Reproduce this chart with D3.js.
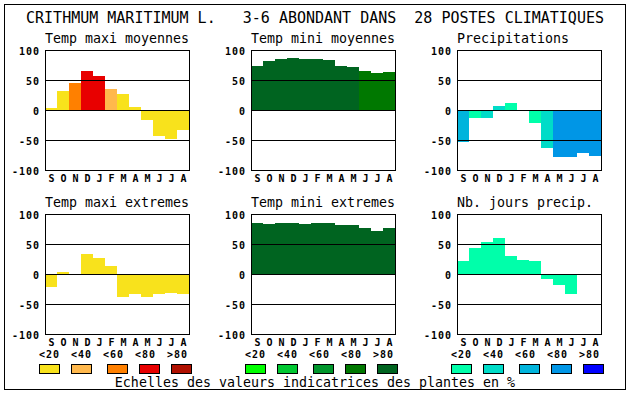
<!DOCTYPE html>
<html>
<head>
<meta charset="utf-8">
<script src="https://cdn.jsdelivr.net/npm/d3@7"></script>
<style>
  body { margin: 0; background: #fff; }
  svg { display: block; }
  text { font-family: "DejaVu Sans Mono", monospace; fill: #000; }
  .big { font-size: 15px; }
  .sub { font-size: 13.3px; }
  .tick { font-size: 10px; font-weight: bold; letter-spacing: 1px; }
</style>
</head>
<body>
<div id="d3-container"></div>
<script>
/**
 * CONSTANTS AND GLOBALS
 * */
const width = 630,
  height = 394;

/**
 * DATA
 * */
const months = ["S", "O", "N", "D", "J", "F", "M", "A", "M", "J", "J", "A"];
const yTicks = [100, 50, 0, -50, -100];
const legendLabels = ["<20", "<40", "<60", "<80", ">80"];

const tempMaxColors = ["#f8e21c", "#ffb84c", "#ff8000", "#e80000", "#b01000"];
const tempMinColors = ["#00ff00", "#00c832", "#00962c", "#007800", "#006420"];
const precipColors = ["#00ffaa", "#00dcc8", "#00b4dc", "#0096e6", "#0000ff"];

const titles = ["Temp maxi moyennes", "Temp mini moyennes", "Precipitations",
  "Temp maxi extremes", "Temp mini extremes", "Nb. jours precip."];

// bar values (-100..100) per month
const tMaxMoy = [4, 32, 45, 65, 57, 35, 27, 5, -16, -43, -48, -33];
const tMinMoy = [73, 82, 85, 87, 85, 85, 83, 73, 72, 65, 62, 63];
const precip = [-53, -14, -13, 7, 12, -2, -21, -64, -78, -78, -71, -76];
const tMaxExt = [-21, 3, 0, 34, 27, 14, -38, -34, -38, -33, -31, -33];
const tMinExt = [85, 84, 85, 85, 84, 85, 85, 82, 82, 76, 72, 76];
const nbJours = [21, 44, 54, 60, 30, 24, 21, -8, -18, -34, -2, 0];

// colour class (index into the palette) per month
const tMaxMoyCls = [0, 0, 2, 3, 3, 1, 0, 0, 0, 0, 0, 0];
const tMinMoyCls = [4, 4, 4, 4, 4, 4, 4, 4, 4, 3, 3, 3];
const precipCls = [2, 0, 1, 1, 0, 1, 0, 1, 3, 3, 3, 3];
const tMaxExtCls = [0, 0, 0, 0, 0, 0, 0, 0, 0, 0, 0, 0];
const tMinExtCls = [4, 4, 4, 4, 4, 4, 4, 4, 4, 4, 4, 4];
const nbJoursCls = [0, 0, 0, 0, 0, 0, 0, 0, 0, 0, 0, 0];

const panels = [
  { title: titles[0], values: tMaxMoy, cls: tMaxMoyCls, palette: tempMaxColors, col: 0, row: 0 },
  { title: titles[1], values: tMinMoy, cls: tMinMoyCls, palette: tempMinColors, col: 1, row: 0 },
  { title: titles[2], values: precip, cls: precipCls, palette: precipColors, col: 2, row: 0 },
  { title: titles[3], values: tMaxExt, cls: tMaxExtCls, palette: tempMaxColors, col: 0, row: 1 },
  { title: titles[4], values: tMinExt, cls: tMinExtCls, palette: tempMinColors, col: 1, row: 1 },
  { title: titles[5], values: nbJours, cls: nbJoursCls, palette: precipColors, col: 2, row: 1 },
];

/**
 * LAYOUT
 * */
const plotW = 144, plotH = 120;
const plotLeft = [45, 251, 457];
const plotTop = [50, 214];
// legend box offsets from the group's start (one is shifted in the original)
const boxOffsets = [0, 32, 68, 100, 132];

const svg = d3.select("#d3-container")
  .append("svg")
  .attr("width", width)
  .attr("height", height)
  .attr("viewBox", "0 0 " + width + " " + height);

// outer frame
svg.append("rect")
  .attr("x", 4.5).attr("y", 4.5)
  .attr("width", 621).attr("height", 385)
  .attr("fill", "none").attr("stroke", "#000");

svg.append("text")
  .attr("class", "big")
  .attr("x", 315).attr("y", 23)
  .attr("text-anchor", "middle")
  .attr("xml:space", "preserve")
  .style("white-space", "pre")
  .text("CRITHMUM MARITIMUM L.   3-6 ABONDANT DANS  28 POSTES CLIMATIQUES");

/**
 * PANELS
 * */
panels.forEach(p => {
  const x0 = plotLeft[p.col], y0 = plotTop[p.row];
  const x = d3.scaleBand().domain(d3.range(12)).range([x0, x0 + plotW]);
  const y = d3.scaleLinear().domain([-100, 100]).range([y0 + plotH, y0]);
  const g = svg.append("g");

  g.append("text")
    .attr("class", "sub")
    .attr("x", x0).attr("y", y0 - 7)
    .text(p.title);

  g.selectAll("rect.bar")
    .data(p.values)
    .join("rect")
    .attr("class", "bar")
    .attr("x", (d, i) => x(i))
    .attr("width", x.bandwidth())
    .attr("y", d => y(Math.max(0, d)))
    .attr("height", d => Math.abs(y(d) - y(0)))
    .attr("fill", (d, i) => p.palette[p.cls[i]])
    .attr("shape-rendering", "crispEdges");

  // grid lines at 50, 0, -50
  g.selectAll("line.grid")
    .data([50, 0, -50])
    .join("line")
    .attr("class", "grid")
    .attr("x1", x0).attr("x2", x0 + plotW)
    .attr("y1", d => Math.round(y(d)) + 0.5)
    .attr("y2", d => Math.round(y(d)) + 0.5)
    .attr("stroke", "#000");

  g.append("rect")
    .attr("x", x0 + 0.5).attr("y", y0 + 0.5)
    .attr("width", plotW).attr("height", plotH)
    .attr("fill", "none").attr("stroke", "#000");

  g.selectAll("text.ytick")
    .data(yTicks)
    .join("text")
    .attr("class", "tick ytick")
    .attr("x", x0 - 5)
    .attr("y", d => y(d) + 4.5)
    .attr("text-anchor", "end")
    .text(d => d);

  g.selectAll("text.month")
    .data(months)
    .join("text")
    .attr("class", "tick month")
    .attr("x", (d, i) => x(i) + x.bandwidth() / 2 + 1)
    .attr("y", y0 + plotH + 11.5)
    .attr("text-anchor", "middle")
    .text(d => d);
});

/**
 * LEGENDS
 * */
[tempMaxColors, tempMinColors, precipColors].forEach((palette, c) => {
  const lx = plotLeft[c] - 6;
  const lg = svg.append("g");
  lg.selectAll("text")
    .data(legendLabels)
    .join("text")
    .attr("class", "tick")
    .attr("x", (d, i) => lx + i * 32)
    .attr("y", 358)
    .text(d => d);
  lg.selectAll("rect")
    .data(palette)
    .join("rect")
    .attr("x", (d, i) => lx + boxOffsets[i] + 0.5)
    .attr("y", 364.5)
    .attr("width", 20).attr("height", 9)
    .attr("fill", d => d)
    .attr("stroke", "#000");
});

svg.append("text")
  .attr("class", "sub")
  .attr("x", 315).attr("y", 386.5)
  .attr("text-anchor", "middle")
  .text("Echelles des valeurs indicatrices des plantes en %");
</script>
</body>
</html>
